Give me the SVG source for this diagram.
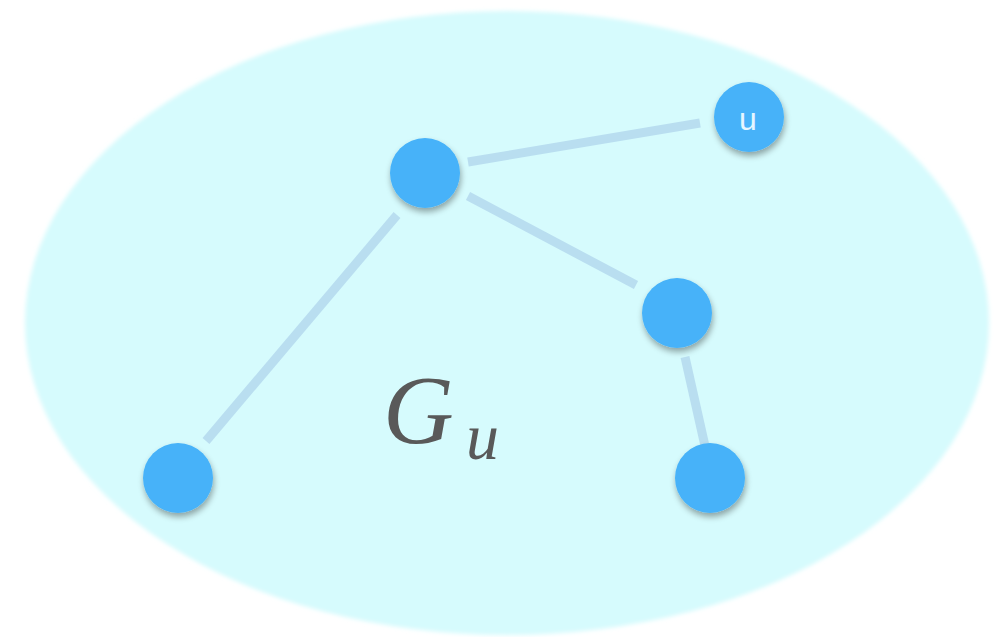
<svg xmlns="http://www.w3.org/2000/svg" width="1003" height="637" viewBox="0 0 1003 637">
<defs>
<filter id="sh" x="-50%" y="-50%" width="200%" height="200%">
<feGaussianBlur in="SourceAlpha" stdDeviation="3"/>
<feOffset dx="1" dy="4" result="b"/>
<feComponentTransfer><feFuncA type="linear" slope="0.35"/></feComponentTransfer>
<feMerge><feMergeNode/><feMergeNode in="SourceGraphic"/></feMerge>
</filter>
<filter id="blur" x="-5%" y="-5%" width="110%" height="110%"><feGaussianBlur stdDeviation="2"/></filter>
<style>
.n{fill:#46b2f9;filter:url(#sh)}
.e{stroke:#b9def0;stroke-width:9;fill:none}
.m{font-family:"Liberation Serif","DejaVu Serif",serif;font-style:italic;fill:#595959}
</style>
</defs>
<rect width="1003" height="637" fill="#ffffff"/>
<ellipse cx="507" cy="323" rx="482" ry="312" fill="#d6fbfd" filter="url(#blur)"/>
<g id="connectors">
<line class="e" x1="468" y1="162" x2="700" y2="123"/>
<line class="e" x1="468" y1="196" x2="636" y2="285"/>
<line class="e" x1="397" y1="215" x2="206" y2="441"/>
<line class="e" x1="685" y1="357" x2="705" y2="446"/>
</g>
<g id="nodeA"><circle class="n" cx="425" cy="173" r="35"/></g>
<g id="nodeU"><circle class="n" cx="749" cy="117" r="35"/><text x="748" y="130" font-family="Liberation Sans,Arial,sans-serif" font-size="32" fill="#e6f6ff" text-anchor="middle">u</text></g>
<g id="nodeB"><circle class="n" cx="677" cy="313" r="35"/></g>
<g id="nodeC"><circle class="n" cx="178" cy="478" r="35"/></g>
<g id="nodeD"><circle class="n" cx="710" cy="478" r="35"/></g>
<g id="label"><text class="m" x="383" y="443" font-size="98">G</text><text class="m" x="466" y="459" font-size="66">u</text></g>
</svg>
